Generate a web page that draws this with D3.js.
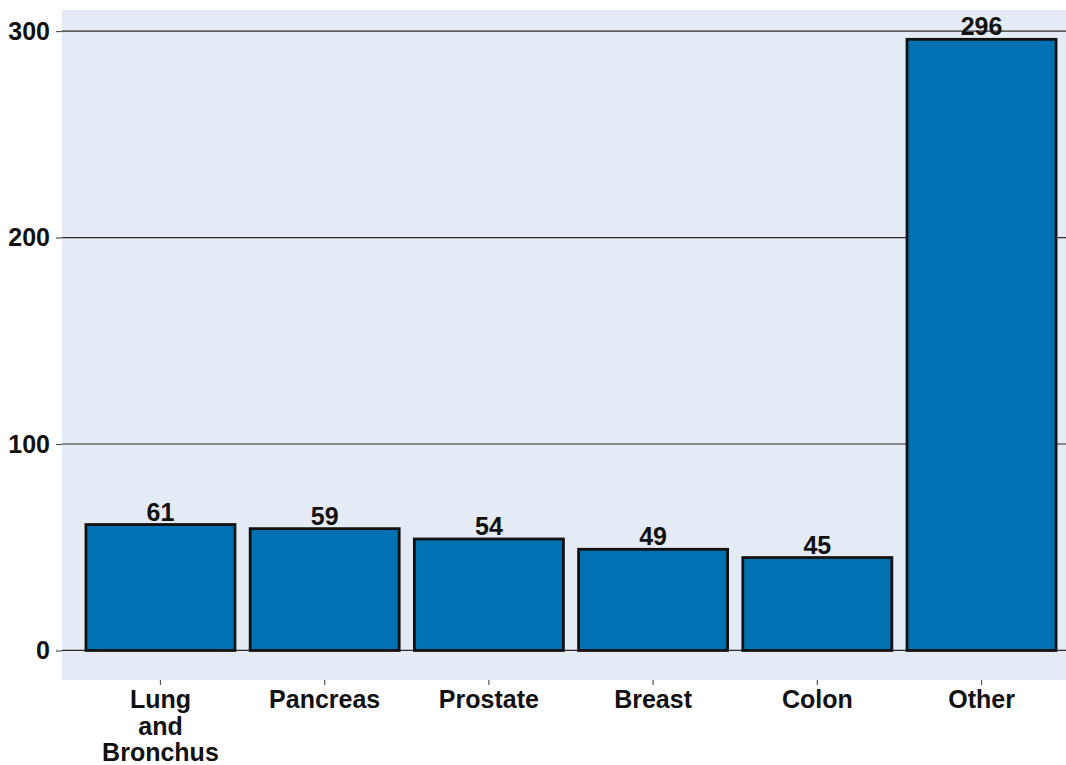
<!DOCTYPE html>
<html>
<head>
<meta charset="utf-8">
<script src="https://cdn.jsdelivr.net/npm/d3@7"></script>
<style>
  body { margin: 0; background: #fff; }
  text { font-family: "Liberation Sans", Arial, sans-serif; font-weight: bold; fill: #111; }
</style>
</head>
<body>
<div id="chart"></div>
<script>
var width = 1066,
    height = 765;

// data
var sites = ['Lung and Bronchus', 'Pancreas', 'Prostate', 'Breast', 'Colon', 'Other'];
var siteLines = [['Lung', 'and', 'Bronchus'], ['Pancreas'], ['Prostate'], ['Breast'], ['Colon'], ['Other']];
var counts = [61, 59, 54, 49, 45, 296];
var yTicks = [0, 100, 200, 300];

var plot = {left: 62, right: 1066, top: 10, bottom: 680};

var svg = d3.select('#chart').append('svg')
    .attr('width', width)
    .attr('height', height);

var x = d3.scaleBand()
    .domain(sites)
    .range([78.4, 1063.6])
    .paddingInner(0.0925)
    .paddingOuter(0.046);

var y = d3.scaleLinear()
    .domain([-14.3, 310.2])
    .range([plot.bottom, plot.top]);

// background panel
svg.append('rect')
    .attr('x', plot.left)
    .attr('y', plot.top)
    .attr('width', plot.right - plot.left)
    .attr('height', plot.bottom - plot.top)
    .attr('fill', '#e4ebf4');

// gridlines
svg.selectAll('line.grid')
    .data(yTicks)
    .enter().append('line')
    .attr('class', 'grid')
    .attr('x1', plot.left)
    .attr('x2', plot.right)
    .attr('y1', function(d){ return y(d); })
    .attr('y2', function(d){ return y(d); })
    .attr('stroke', '#2a2a2a')
    .attr('stroke-width', 1.2);

// y axis
var yAxis = d3.axisLeft(y).tickValues(yTicks).tickSize(6).tickPadding(6);
var gy = svg.append('g')
    .attr('transform', 'translate(' + plot.left + ',0)')
    .call(yAxis);
gy.select('.domain').remove();
gy.selectAll('.tick line').attr('stroke', '#555').attr('stroke-width', 1.2);
gy.selectAll('.tick text').style('font-size', '25px').attr('fill', '#111');

// x axis
var xAxis = d3.axisBottom(x).tickSize(5).tickFormat('');
var gx = svg.append('g')
    .attr('transform', 'translate(0,' + plot.bottom + ')')
    .call(xAxis);
gx.select('.domain').remove();
gx.selectAll('.tick line').attr('stroke', '#555').attr('stroke-width', 1.2);

svg.selectAll('text.xlab')
    .data(sites)
    .enter().append('text')
    .attr('class', 'xlab')
    .attr('text-anchor', 'middle')
    .style('font-size', '25px')
    .attr('x', function(d){ return x(d) + x.bandwidth() / 2; })
    .attr('y', 708)
    .each(function(d, i){
        var t = d3.select(this);
        siteLines[i].forEach(function(line, j){
            t.append('tspan')
                .attr('x', x(d) + x.bandwidth() / 2)
                .attr('dy', j === 0 ? 0 : 26.5)
                .text(line);
        });
    });

// bars
svg.selectAll('rect.bar')
    .data(counts)
    .enter().append('rect')
    .attr('class', 'bar')
    .attr('x', function(d, i){ return x(sites[i]); })
    .attr('width', x.bandwidth())
    .attr('y', function(d){ return y(d); })
    .attr('height', function(d){ return y(0) - y(d); })
    .attr('fill', '#0071b1')
    .attr('stroke', '#111')
    .attr('stroke-width', 2.8);

// value labels
svg.selectAll('text.val')
    .data(counts)
    .enter().append('text')
    .attr('class', 'val')
    .attr('text-anchor', 'middle')
    .style('font-size', '25px')
    .attr('x', function(d, i){ return x(sites[i]) + x.bandwidth() / 2; })
    .attr('y', function(d){ return y(d) - 4; })
    .text(function(d){ return d; });
</script>
</body>
</html>
